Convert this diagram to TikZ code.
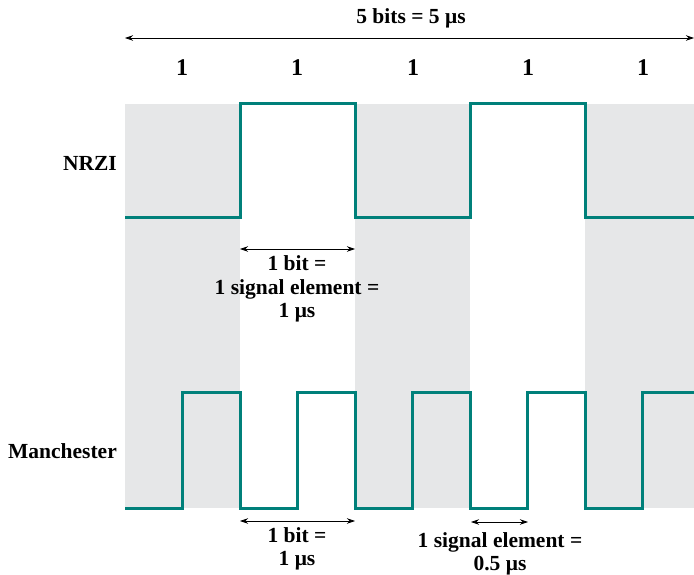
\documentclass[tikz,border=0pt]{standalone}
\usepackage{fontspec}
\setmainfont{Liberation Serif}
\usetikzlibrary{arrows.meta}
\definecolor{sigteal}{RGB}{0,128,122}
\definecolor{bitgray}{RGB}{230,231,232}

\begin{document}
\begin{tikzpicture}[x=1pt,y=-1pt,
    lbl/.style={font=\bfseries\fontsize{21.5}{23.5}\selectfont,align=center,inner sep=0pt},
    bitlbl/.style={font=\bfseries\fontsize{24}{26}\selectfont,inner sep=0pt},
    sig/.style={draw=sigteal,line width=3pt,line join=miter},
    dim/.style={{Stealth[length=8pt,width=5.5pt]}-{Stealth[length=8pt,width=5.5pt]},line width=0.7pt}]
  \useasboundingbox (0,0) rectangle (694,575);
  % shaded bit periods
  \fill[bitgray] (125,104) rectangle (240,508);
  \fill[bitgray] (355,104) rectangle (470,508);
  \fill[bitgray] (585,104) rectangle (694,508);
  % top scale
  \node[lbl] (total) at (411,18) {5 bits = 5 μs};
  \coordinate (tl) at (125,38);
  \coordinate (tr) at (694,38);
  \draw[dim] (tl) -- (tr);
  \foreach \i/\x in {1/182,2/297,3/413,4/528,5/643}
    \node[bitlbl] (b\i) at (\x,68) {1};
  % signals
  \node[lbl,anchor=east] (nrzi) at (117,163) {NRZI};
  \node[lbl,anchor=east] (manch) at (117,451) {Manchester};
  \draw[sig] (125,218) -- (240,218) -- (240,104) -- (355,104) -- (355,218)
    -- (470,218) -- (470,104) -- (585,104) -- (585,218) -- (694,218);
  \draw[sig] (125,508) -- (182.5,508) -- (182.5,392) -- (240,392) -- (240,508)
    -- (297.5,508) -- (297.5,392) -- (355,392) -- (355,508)
    -- (412.5,508) -- (412.5,392) -- (470,392) -- (470,508)
    -- (527.5,508) -- (527.5,392) -- (585,392) -- (585,508)
    -- (642.5,508) -- (642.5,392) -- (694,392);
  % bit and signal element durations
  \coordinate (m1) at (240,249);
  \coordinate (m2) at (355,249);
  \draw[dim] (m1) -- (m2);
  \node[lbl] (mtxt) at (297,289) {1 bit =\\1 signal element =\\1 μs};
  \coordinate (d1) at (240,521);
  \coordinate (d2) at (355,521);
  \draw[dim] (d1) -- (d2);
  \node[lbl] (dtxt) at (297,549) {1 bit =\\1 μs};
  \coordinate (e1) at (471,522);
  \coordinate (e2) at (528,522);
  \draw[dim] (e1) -- (e2);
  \node[lbl] (etxt) at (500,554) {1 signal element =\\0.5 μs};
\end{tikzpicture}
\end{document}
